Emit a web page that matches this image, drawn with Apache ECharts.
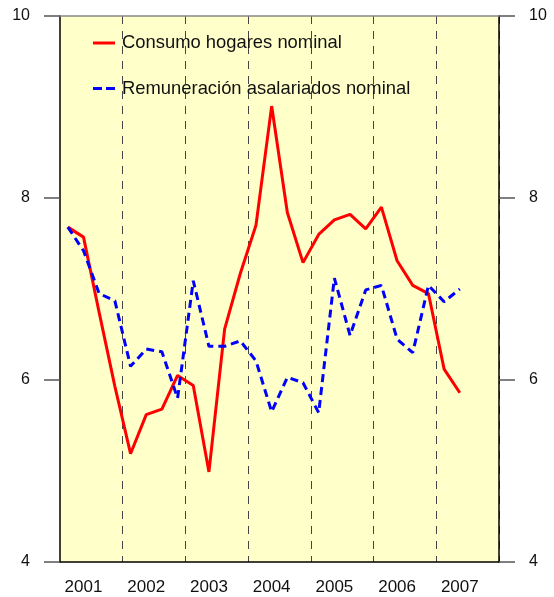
<!DOCTYPE html>
<html>
<head>
<meta charset="utf-8">
<script src="https://cdn.jsdelivr.net/npm/echarts@6/dist/echarts.min.js"></script>
<style>
  html, body { margin: 0; padding: 0; background: #fff; }
  #chart { width: 554px; height: 597px; }
</style>
</head>
<body>
<div id="chart"></div>
<script>
  // años y trimestres
  var years = ['2001', '2002', '2003', '2004', '2005', '2006', '2007']
  var quarters = ['I', 'II', 'III', 'IV']
  var yTicks = [4, 6, 8, 10]

  // 2001-I .. 2007-II
  var consumo = [7.68, 7.57, 6.74, 5.93, 5.19, 5.62, 5.68, 6.05,
    5.94, 4.99, 6.56, 7.17, 7.70, 9.01, 7.84, 7.29,
    7.60, 7.76, 7.82, 7.66, 7.90, 7.31, 7.04, 6.95,
    6.12, 5.86]
  var remuneracion = [7.68, 7.42, 6.95, 6.87, 6.15, 6.34, 6.31, 5.80,
    7.09, 6.37, 6.37, 6.43, 6.21, 5.65, 6.03, 5.97,
    5.64, 7.12, 6.49, 6.99, 7.04, 6.45, 6.30, 7.04,
    6.86, 7.00]

  var categories = []
  years.forEach(function (y) {
    quarters.forEach(function (q) { categories.push(y + '-' + q) })
  })

  var FONT = 'Liberation Sans, Arial, sans-serif'

  var chart = echarts.init(document.getElementById('chart'), null, { renderer: 'canvas' })

  var yAxisBase = function (pos) {
    return {
      type: 'value',
      position: pos,
      min: yTicks[0],
      max: yTicks[yTicks.length - 1],
      interval: 2,
      axisLine: { show: true, lineStyle: { color: '#000', width: 1.5 } },
      axisTick: { show: true, inside: false, length: 16, lineStyle: { color: '#555', width: 1.5 } },
      axisLabel: {
        margin: 30,
        color: '#111',
        fontFamily: FONT,
        fontSize: 16
      },
      splitLine: { show: false }
    }
  }

  chart.setOption({
    animation: false,
    backgroundColor: '#fff',
    textStyle: { fontFamily: FONT },
    grid: {
      left: 60,
      right: 55,
      top: 16,
      bottom: 35,
      show: true,
      backgroundColor: '#FFFFCA',
      borderWidth: 0
    },
    legend: {
      orient: 'vertical',
      left: 88,
      top: 29,
      itemWidth: 22,
      itemHeight: 3,
      itemGap: 27.5,
      symbolKeepAspect: false,
      textStyle: {
        color: '#111',
        fontSize: 18.4,
        fontFamily: FONT,
        padding: [0, 0, 0, 2]
      },
      data: [
        { name: 'Consumo hogares nominal', icon: 'path://M0,0H22V3H0Z' },
        { name: 'Remuneración asalariados nominal', icon: 'path://M0,0H9V3H0Z M13,0H22V3H13Z' }
      ]
    },
    xAxis: [{
      type: 'category',
      data: categories,
      boundaryGap: true,
      position: 'bottom',
      axisLine: { show: true, lineStyle: { color: '#000', width: 1.5 } },
      axisTick: { show: false },
      axisLabel: {
        margin: 17,
        color: '#111',
        fontSize: 17,
        interval: function (index) { return index % 4 === 1 },
        formatter: function (v) { return v.slice(0, 4) }
      },
      splitLine: {
        show: true,
        interval: function (index) { return index % 4 === 0 && index > 0 },
        lineStyle: { color: '#444', width: 1, type: [8, 7] }
      }
    }, {
      type: 'category',
      data: categories,
      position: 'top',
      axisLine: { show: true, lineStyle: { color: '#888', width: 1.5 } },
      axisTick: { show: false },
      axisLabel: { show: false },
      splitLine: { show: false }
    }],
    yAxis: [yAxisBase('left'), yAxisBase('right')],
    series: [{
      name: 'Consumo hogares nominal',
      type: 'line',
      data: consumo,
      symbol: 'none',
      lineStyle: { color: '#ff0000', width: 3 },
      itemStyle: { color: '#ff0000' },
      z: 3
    }, {
      name: 'Remuneración asalariados nominal',
      type: 'line',
      data: remuneracion,
      symbol: 'none',
      lineStyle: { color: '#0000ff', width: 3, type: [8, 5] },
      itemStyle: { color: '#0000ff' },
      z: 4
    }]
  })
</script>
</body>
</html>
